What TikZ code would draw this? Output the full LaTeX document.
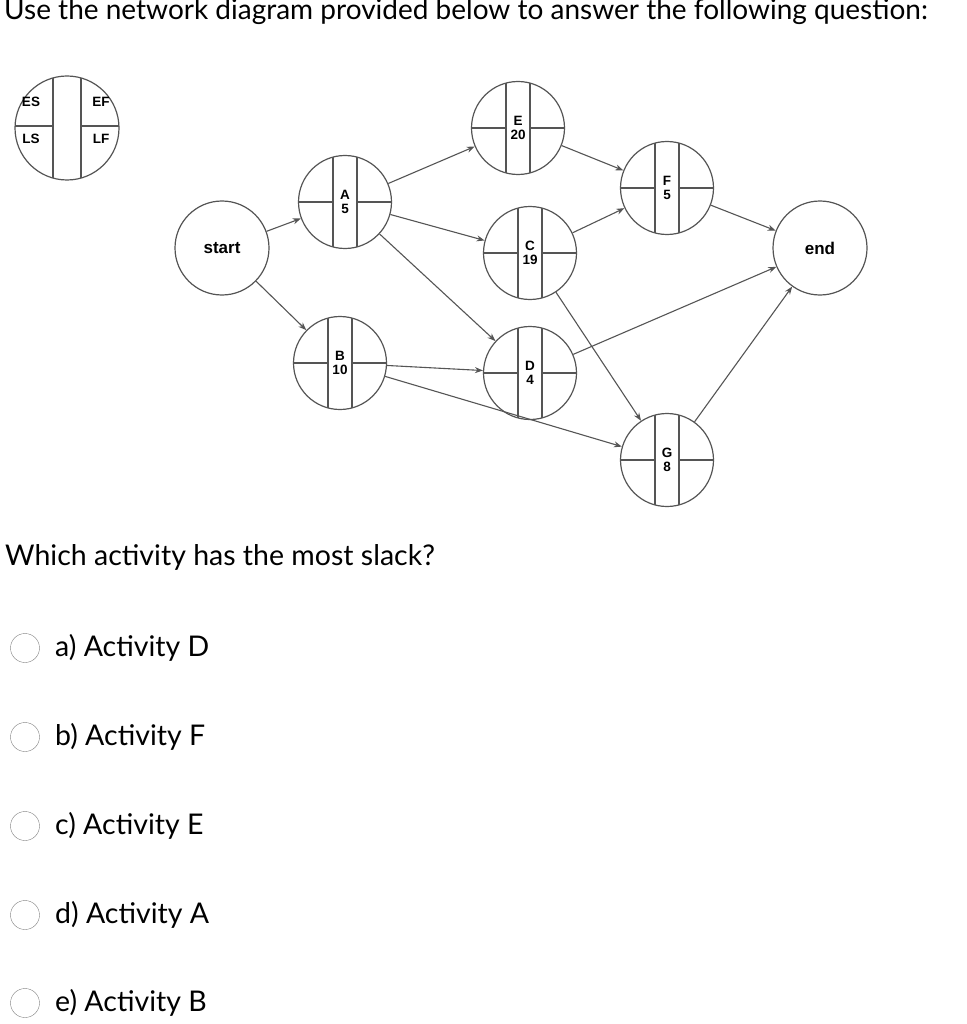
\documentclass[tikz,border=0pt]{standalone}
\usepackage{fontspec}
\setmainfont{Lato}
\newfontfamily\arial{Liberation Sans}
\usetikzlibrary{arrows.meta,calc}
\definecolor{ln}{HTML}{555555}
\tikzset{
  act/.style={circle,draw=ln,line width=1.2pt,minimum size=93pt,inner sep=0pt},
  ev/.style={circle,draw=ln,line width=1.2pt,minimum size=94pt,inner sep=0pt,font=\arial\bfseries\fontsize{17}{17}\selectfont},
  lbl/.style={font=\arial\bfseries\fontsize{13.5}{13.5}\selectfont,align=center,inner sep=0pt},
  con/.style={draw=ln,line width=1.1pt,-{Stealth[length=8pt,width=6pt]}},
  radio/.style={circle,draw=gray,minimum size=29pt,inner sep=0pt},
  opt/.style={anchor=west,font=\fontsize{28.5}{28.5}\selectfont,inner sep=0pt}
}
\newcommand{\actnode}[4]{%
  \node[act] (#1) at (#2) {};
  \begin{scope}
    \clip (#2) circle (46.5pt);
    \draw[ln,line width=1.2pt] ($(#2)+(-12pt,-50pt)$) -- ($(#2)+(-12pt,50pt)$);
    \draw[ln,line width=1.2pt] ($(#2)+(12pt,-50pt)$) -- ($(#2)+(12pt,50pt)$);
    \draw[ln,line width=1.2pt] ($(#2)+(-50pt,0)$) -- ($(#2)+(-12pt,0)$);
    \draw[ln,line width=1.2pt] ($(#2)+(12pt,0)$) -- ($(#2)+(50pt,0)$);
  \end{scope}
  \node[lbl] at (#2) {#3\\[1pt]#4};
}
\begin{document}
\begin{tikzpicture}[x=1pt,y=-1pt]
\useasboundingbox[fill=white] (0,0) rectangle (966,1024);
\node[anchor=base west,inner sep=0pt,font=\fontsize{28}{28}\selectfont] (title) at (4,20) {Use the network diagram provided below to answer the following question:};
% legend
\node[circle,draw=ln,line width=1.2pt,minimum size=104pt,inner sep=0pt] (leg) at (67,128) {};
\begin{scope}
  \clip (67,128) circle (52pt);
  \draw[ln,line width=1.2pt] (53,70) -- (53,190);
  \draw[ln,line width=1.2pt] (81,70) -- (81,190);
  \draw[ln,line width=1.2pt] (10,126) -- (53,126);
  \draw[ln,line width=1.2pt] (81,126) -- (125,126);
\end{scope}
\node[lbl] (les) at (31,102) {ES};
\node[lbl] (lef) at (101,102) {EF};
\node[lbl] (lls) at (31,139) {LS};
\node[lbl] (llf) at (101,139) {LF};
% events
\node[ev] (start) at (222,248) {start};
\node[ev] (end) at (820,248) {end};
\actnode{A}{345,202}{A}{5}
\actnode{B}{340,363}{B}{10}
\actnode{E}{518,128}{E}{20}
\actnode{C}{530,253}{C}{19}
\actnode{D}{530,373}{D}{4}
\actnode{F}{667,188}{F}{5}
\actnode{G}{667,460}{G}{8}
\draw[con] (start) -- (A);
\draw[con] (start) -- (B);
\draw[con] (A) -- (E);
\draw[con] (A) -- (C);
\draw[con] (A) -- (D);
\draw[con] (B) -- (D);
\draw[con] (B) -- (G);
\draw[con] (E) -- (F);
\draw[con] (C) -- (F);
\draw[con] (C) -- (G);
\draw[con] (F) -- (end);
\draw[con] (D) -- (end);
\draw[con] (G) -- (end);
% question
\node[opt] (q) at (5,557) {Which activity has the most slack?};
\node[radio] (r1) at (25,648) {}; \node[opt] (o1) at (55,648) {a) Activity D};
\node[radio] (r2) at (25,737) {}; \node[opt] (o2) at (55,737) {b) Activity F};
\node[radio] (r3) at (25,826) {}; \node[opt] (o3) at (55,826) {c) Activity E};
\node[radio] (r4) at (25,915) {}; \node[opt] (o4) at (55,915) {d) Activity A};
\node[radio] (r5) at (25,1003) {}; \node[opt] (o5) at (55,1003) {e) Activity B};
\end{tikzpicture}
\end{document}
